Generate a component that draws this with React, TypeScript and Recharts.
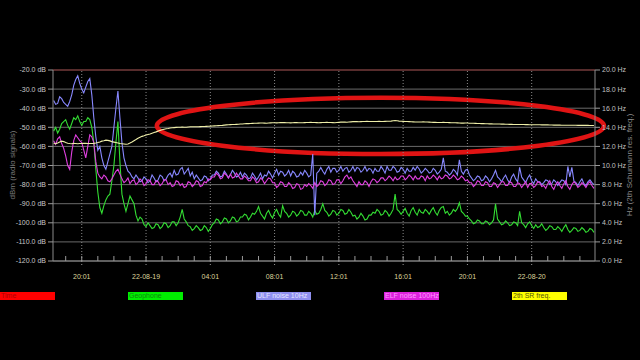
import React from 'react';
import { ComposedChart, Line, XAxis, YAxis, CartesianGrid, ReferenceLine, ReferenceArea } from 'recharts';

// sampling grid: hours relative to 22-08-19 00:01
const START_HOUR = -5.75;
const STEP_HOURS = 0.125;

const geophone = [
  -52, -50, -53, -51, -48, -47, -46, -49, -51, -48,
  -45, -46, -44, -47, -49, -47, -47, -45, -46, -50,
  -58, -72, -84, -92, -95, -91, -88, -86, -85, -78,
  -70, -58, -47, -68, -85, -90, -94, -90, -86, -88,
  -90, -96, -99, -97, -98, -101, -102, -100, -101.5, -103,
  -102.5, -100.5, -101, -103, -102, -100, -100.5, -102.5, -101.5, -99.5,
  -99.5, -101.5, -100, -97, -93, -98, -99.5, -101.5, -102, -104,
  -103, -101.5, -102.5, -104, -103.5, -101.5, -102.5, -104.5, -103, -101,
  -100, -98, -98.5, -100.5, -99.5, -97.5, -98, -100, -99, -97,
  -97.5, -99.5, -99, -97, -97, -95.5, -96, -98.5, -97, -95,
  -95.5, -94, -91.5, -95, -96.5, -98, -95, -93.5, -96, -97.5,
  -94.5, -93, -95.5, -97, -91, -94, -95, -97, -96, -94,
  -94.5, -96.5, -95.5, -93.5, -94, -96, -96, -94, -95, -97,
  -93.5, -95.5, -95, -93, -90, -93.5, -94.5, -96.5, -95.5, -93.5,
  -94, -96, -95, -93, -93.5, -95.5, -95, -93, -94.5, -96.5,
  -96, -98, -97, -95, -96.5, -98.5, -98, -96, -96, -94.5,
  -95, -93, -94, -96, -95.5, -93.5, -94.5, -96.5, -95, -93,
  -85, -93, -94, -95.5, -94, -92.5, -95, -96.5, -93.5, -92,
  -94.5, -96, -93, -94.5, -95, -93, -94, -95.5, -93.5, -92,
  -94.5, -96, -93.5, -92, -91.5, -95, -94, -96, -95, -93,
  -94, -92.5, -89.5, -94, -95, -96.5, -96.5, -98, -99, -100.5,
  -100, -98.5, -99, -100.5, -100.5, -99, -99.5, -101, -100, -98.5,
  -90, -98, -99.5, -101, -100.5, -99, -100, -101.5, -101, -99.5,
  -100, -101.5, -94, -100, -101, -102.5, -100.5, -99.5, -101.5, -103,
  -101, -102.5, -102, -100.5, -102.5, -104, -103, -101.5, -102, -103.5,
  -103.5, -102, -103, -104.5, -102.5, -101, -103.5, -105, -104, -102.5,
  -103, -104.5, -104, -102.5, -103.5, -105, -104.5, -103, -103.5, -105,
];

const ulfNoise = [
  -36, -38, -37.5, -34, -35, -37, -38, -39, -36.5, -33,
  -28, -25, -23, -27, -30, -32, -29, -26, -24.5, -33,
  -45, -55, -62, -60, -66, -70, -72, -68, -64, -60,
  -50, -40, -31, -45, -58, -66, -70, -73, -74, -76,
  -77, -75, -76.5, -78.5, -78, -76, -77, -79, -78, -75,
  -76.5, -78.5, -77.5, -75, -75.8, -78, -77, -75, -74, -76,
  -72.5, -75, -74.5, -72, -71, -74.5, -73, -71.5, -75.5, -73.5,
  -77, -75, -76.5, -78, -77.5, -75.5, -76, -78, -77, -75,
  -75, -73, -74, -76, -75.5, -73, -74.5, -76.5, -75, -72.5,
  -74, -76, -75.5, -73.5, -76, -74, -75, -77, -76.5, -74,
  -75.5, -77.5, -76, -74, -77, -75, -75.5, -73, -74.5, -76.5,
  -74, -72, -75, -73, -73.5, -75.5, -74.5, -72.5, -75.5, -73,
  -74, -76, -75.5, -73.5, -75, -72.5, -74, -76, -75, -64,
  -96, -74, -73, -71, -73, -74.5, -72, -70.5, -73.5, -71.5,
  -71.5, -73.5, -72.5, -70.5, -73, -71.5, -71, -73.5, -72.5, -70.5,
  -73, -71, -71.5, -73.5, -72.5, -70.5, -73, -71.5, -72, -74,
  -71.5, -73, -73, -70.5, -72, -74, -70.5, -72.5, -72.5, -70.5,
  -71.5, -73.5, -73, -71, -72, -74, -71.5, -73, -73, -71,
  -72.5, -70.5, -71.8, -74, -73, -71.5, -72.5, -74, -73.5, -71.5,
  -72.5, -74.5, -73.5, -72, -66, -73, -73.5, -75, -74, -72,
  -73, -75, -67, -73, -74.5, -72.5, -72, -75, -76.5, -78,
  -77, -75.5, -76, -78, -77.5, -75.5, -76.5, -78.5, -77, -75,
  -72.5, -76, -77, -78.5, -76.5, -75, -77.5, -79, -76, -74.5,
  -77, -78.5, -71, -76, -77.5, -79, -76.5, -75, -78, -79.5,
  -77, -78.5, -78.5, -80, -79, -77.5, -78, -80, -79.5, -77.5,
  -78.5, -80.5, -79, -77.5, -78, -80, -70.5, -76, -71, -78,
  -79, -80.5, -78.5, -77, -79.5, -80.5, -78.5, -77.5, -79, -80,
];

const elfNoise = [
  -57, -59, -56, -55, -58.5, -61, -65, -70, -72, -63,
  -57, -54, -55.5, -57, -58, -62, -66, -60, -54, -55,
  -58, -68, -74, -76, -77, -75, -76, -78, -78.5, -77,
  -75, -73, -72, -74.5, -77, -79, -78, -76.5, -79.5, -78,
  -77.5, -80, -79, -77, -78, -80.5, -79.5, -77.5, -78, -80,
  -80, -78, -78.5, -80.5, -79.5, -77.5, -77.5, -80, -79, -81,
  -80.5, -78, -78.5, -80.5, -79.5, -81.5, -81, -78.5, -79, -81,
  -80, -78, -78.5, -81, -80.5, -78.5, -79, -77, -77.5, -76,
  -76, -74, -75, -77, -76.5, -74, -75, -76.5, -74.5, -76.5,
  -76, -74, -75.5, -77, -77, -75.5, -76.5, -78, -78, -76,
  -77, -79, -78.5, -76.5, -77.5, -79.5, -78, -76.5, -77, -79,
  -79, -81.5, -80.5, -78.5, -79, -81, -81, -79, -80, -82,
  -81.5, -79.5, -80, -82.5, -82, -80, -81, -79.5, -80.5, -82,
  -79, -81, -80, -78, -78.5, -80.5, -79.5, -77.5, -78, -80,
  -79.5, -77.5, -77.5, -79.5, -78, -76, -75, -77, -76, -78,
  -79.5, -81, -78.5, -80, -80, -78, -79, -81, -78.5, -77,
  -77.5, -79, -78, -76.5, -76.5, -78, -77, -75.5, -76.5, -78,
  -76, -77.5, -77, -75.5, -75.5, -77.5, -76.5, -75, -76, -77.5,
  -75.5, -77, -77, -75.5, -76, -78, -75.5, -77, -76.5, -75,
  -76, -77.5, -75.5, -77, -76.5, -75, -75.5, -77, -76.5, -75,
  -76, -77.5, -77, -75.5, -76.5, -78, -77.5, -79, -79, -81,
  -80, -78, -78.5, -80.5, -80.5, -78.5, -79, -81, -81, -79,
  -79.5, -81.5, -80, -78.5, -78.5, -80.5, -80.5, -78.5, -79, -81,
  -81, -79, -79.5, -81.5, -80, -78.5, -81.5, -79.5, -79.5, -81.5,
  -80.5, -78.5, -79, -81, -80.5, -82, -79.5, -78, -81, -82.5,
  -80, -78.5, -80.5, -82, -79.5, -78, -81, -82.5, -80, -78.5,
  -79.5, -81.5, -80.5, -79, -80, -81.5, -79.5, -78.5, -80.5, -82,
];

const srFreq = [
  12.3, 12.28, 12.35, 12.45, 12.55, 12.5, 12.4, 12.33, 12.3, 12.28,
  12.32, 12.3, 12.28, 12.3, 12.3, 12.32, 12.33, 12.3, 12.3, 12.3,
  12.32, 12.35, 12.4, 12.47, 12.55, 12.6, 12.66, 12.63, 12.58, 12.5,
  12.45, 12.4, 12.35, 12.3, 12.28, 12.25, 12.22, 12.26, 12.35, 12.47,
  12.6, 12.72, 12.85, 12.95, 13.05, 13.12, 13.2, 13.25, 13.3, 13.38,
  13.45, 13.52, 13.6, 13.68, 13.75, 13.8, 13.85, 13.88, 13.92, 13.95,
  13.97, 13.99, 14.0, 14.01, 14.02, 14.0, 14.0, 14.03, 14.05, 14.05,
  14.06, 14.05, 14.05, 14.07, 14.08, 14.09, 14.1, 14.11, 14.12, 14.14,
  14.15, 14.16, 14.18, 14.19, 14.2, 14.23, 14.25, 14.26, 14.28, 14.29,
  14.3, 14.31, 14.32, 14.34, 14.35, 14.37, 14.38, 14.39, 14.4, 14.41,
  14.42, 14.43, 14.44, 14.45, 14.45, 14.44, 14.43, 14.45, 14.46, 14.47,
  14.47, 14.46, 14.47, 14.49, 14.5, 14.49, 14.48, 14.47, 14.46, 14.48,
  14.5, 14.49, 14.48, 14.47, 14.47, 14.49, 14.5, 14.51, 14.52, 14.51,
  14.5, 14.49, 14.48, 14.49, 14.5, 14.51, 14.52, 14.51, 14.5, 14.49,
  14.48, 14.5, 14.52, 14.54, 14.55, 14.54, 14.53, 14.55, 14.57, 14.59,
  14.6, 14.59, 14.58, 14.59, 14.6, 14.61, 14.62, 14.61, 14.6, 14.6,
  14.6, 14.61, 14.62, 14.61, 14.6, 14.62, 14.63, 14.64, 14.65, 14.68,
  14.7, 14.68, 14.65, 14.63, 14.62, 14.61, 14.6, 14.59, 14.58, 14.57,
  14.56, 14.55, 14.55, 14.56, 14.57, 14.56, 14.55, 14.54, 14.53, 14.52,
  14.52, 14.51, 14.5, 14.51, 14.52, 14.51, 14.5, 14.49, 14.48, 14.48,
  14.47, 14.46, 14.45, 14.44, 14.44, 14.45, 14.45, 14.43, 14.42, 14.42,
  14.41, 14.4, 14.4, 14.39, 14.38, 14.37, 14.37, 14.36, 14.36, 14.35,
  14.35, 14.34, 14.34, 14.33, 14.33, 14.32, 14.32, 14.31, 14.31, 14.3,
  14.3, 14.3, 14.3, 14.29, 14.29, 14.28, 14.28, 14.27, 14.27, 14.27,
  14.27, 14.26, 14.26, 14.25, 14.25, 14.25, 14.25, 14.24, 14.24, 14.23,
  14.23, 14.23, 14.23, 14.22, 14.22, 14.22, 14.22, 14.21, 14.21, 14.21,
  14.21, 14.2, 14.2, 14.2, 14.2, 14.2, 14.2, 14.19, 14.19, 14.19,
];

const hourTicks = [-5, -4, -3, -2, -1, 0, 1, 2, 3, 4, 5, 6, 7, 8, 9, 10, 11, 12, 13, 14, 15, 16, 17, 18, 19, 20, 21, 22, 23, 24, 25, 26, 27];
const majorTicks = [-4, 0, 4, 8, 12, 16, 20, 24];
const majorLabels = ['20:01', '22-08-19', '04:01', '08:01', '12:01', '16:01', '20:01', '22-08-20'];
const dbTicks = [-120, -110, -100, -90, -80, -70, -60, -50, -40, -30, -20];
const hzTicks = [0, 2, 4, 6, 8, 10, 12, 14, 16, 18, 20];
const xDomain = [-5.79, 27.94];

// highlight ellipse around the 2th SR frequency trace (data coordinates)
const highlight = { x1: 0.67, x2: 28.5, y1: -64, y2: -34.5 };

const legendItems = [
  { label: 'Time', bg: '#ff0000', fg: '#b00000' },
  { label: 'Geophone', bg: '#00ee00', fg: '#118811' },
  { label: 'ULF noise 10Hz', bg: '#8f8fef', fg: '#e4e4ff' },
  { label: 'ELF noise 100Hz', bg: '#dd22dd', fg: '#ff99ff' },
  { label: '2th SR freq.', bg: '#ffff00', fg: '#55550a' },
];

const data = geophone.map((g, i) => ({
  t: START_HOUR + i * STEP_HOURS,
  geo: g,
  ulf: ulfNoise[i],
  elf: elfNoise[i],
  sr: srFreq[i],
}));

const FONT = '"Liberation Sans", Arial, sans-serif';
const NBSP = '\u00a0';

const XTick = (props: any) => {
  const { x, y, payload } = props;
  const idx = majorTicks.indexOf(payload.value);
  return (
    <g>
      <line x1={x} y1={y} x2={x} y2={y - 5} stroke="#9a9a9a" strokeWidth={1} />
      {idx >= 0 && <line x1={x} y1={y} x2={x} y2={y + 5} stroke="#9a9a9a" strokeDasharray="1 2" />}
      {idx >= 0 && (
        <text x={x} y={y + 18} textAnchor="middle" fill="#ddd59c" fontSize={7} fontFamily={FONT}>
          {majorLabels[idx]}
        </text>
      )}
    </g>
  );
};

const EllipseShape = (props: any) => {
  const { x, y, width, height } = props;
  return (
    <ellipse
      cx={x + width / 2}
      cy={y + height / 2}
      rx={Math.abs(width) / 2}
      ry={Math.abs(height) / 2}
      fill="none"
      stroke="#e01414"
      strokeWidth={4.5}
    />
  );
};

export default function App() {
  return (
    <div style={{ position: 'fixed', left: 0, top: 0, width: 640, height: 360, background: '#000', overflow: 'hidden' }}>
      <ComposedChart
        width={640}
        height={360}
        data={data}
        margin={{ top: 70, right: 0, bottom: 0, left: 0 }}
        style={{ fontFamily: FONT }}
      >
        <CartesianGrid yAxisId="left" horizontal vertical={false} stroke="#6a6a6a" strokeWidth={1} />
        <XAxis
          dataKey="t"
          type="number"
          domain={xDomain}
          ticks={hourTicks}
          interval={0}
          allowDataOverflow
          height={99}
          tickLine={false}
          tickSize={0}
          tickMargin={0}
          tick={<XTick />}
          axisLine={{ stroke: '#8a8a8a' }}
        />
        <YAxis
          yAxisId="left"
          domain={[-120, -20]}
          ticks={dbTicks}
          interval={0}
          width={53}
          tickSize={5}
          tickMargin={2}
          tickLine={{ stroke: '#9a9a9a' }}
          axisLine={{ stroke: '#8a8a8a' }}
          tick={{ fill: '#c8c8c8', fontSize: 7, fontFamily: FONT }}
          tickFormatter={(v: number) => `${v.toFixed(1)}${NBSP}dB`}
        />
        <YAxis
          yAxisId="right"
          orientation="right"
          domain={[0, 20]}
          ticks={hzTicks}
          interval={0}
          width={45}
          tickSize={5}
          tickMargin={2}
          tickLine={{ stroke: '#9a9a9a' }}
          axisLine={{ stroke: '#8a8a8a' }}
          tick={{ fill: '#c0c0c0', fontSize: 7, fontFamily: FONT }}
          tickFormatter={(v: number) => `${v.toFixed(1)}${NBSP}Hz`}
        />
        {majorTicks.map((t) => (
          <ReferenceLine key={t} yAxisId="left" x={t} stroke="#8a8a8a" strokeDasharray="1 2" />
        ))}
        <ReferenceLine yAxisId="left" y={-20} stroke="#7a2424" strokeWidth={1.2} />
        <Line yAxisId="left" dataKey="geo" stroke="#33dd33" strokeWidth={1.1} dot={false} isAnimationActive={false} />
        <Line yAxisId="left" dataKey="ulf" stroke="#8888ff" strokeWidth={1.1} dot={false} isAnimationActive={false} />
        <Line yAxisId="left" dataKey="elf" stroke="#e040e0" strokeWidth={1.1} dot={false} isAnimationActive={false} />
        <Line yAxisId="right" dataKey="sr" stroke="#eeeea8" strokeWidth={1.1} dot={false} isAnimationActive={false} />
        <ReferenceArea
          yAxisId="left"
          x1={highlight.x1}
          x2={highlight.x2}
          y1={highlight.y1}
          y2={highlight.y2}
          ifOverflow="visible"
          shape={<EllipseShape />}
        />
      </ComposedChart>
      <div
        style={{
          position: 'absolute', left: 12, top: 165, transform: 'translate(-50%, -50%) rotate(-90deg)',
          color: '#7a7a7a', fontSize: 8, fontFamily: FONT, whiteSpace: 'nowrap',
        }}
      >
        dBm (radio signals)
      </div>
      <div
        style={{
          position: 'absolute', left: 629, top: 165, transform: 'translate(-50%, -50%) rotate(-90deg)',
          color: '#8a8a8a', fontSize: 8, fontFamily: FONT, whiteSpace: 'nowrap',
        }}
      >
        Hz (2th Schumann res. freq.)
      </div>
      {legendItems.map((item, i) => (
        <div
          key={item.label}
          style={{
            position: 'absolute', left: i * 128, top: 292, width: 55, height: 8,
            background: item.bg, color: item.fg, fontSize: 7, lineHeight: '8px',
            fontFamily: FONT, whiteSpace: 'nowrap', overflow: 'hidden', paddingLeft: 1, boxSizing: 'border-box',
          }}
        >
          {item.label}
        </div>
      ))}
    </div>
  );
}
